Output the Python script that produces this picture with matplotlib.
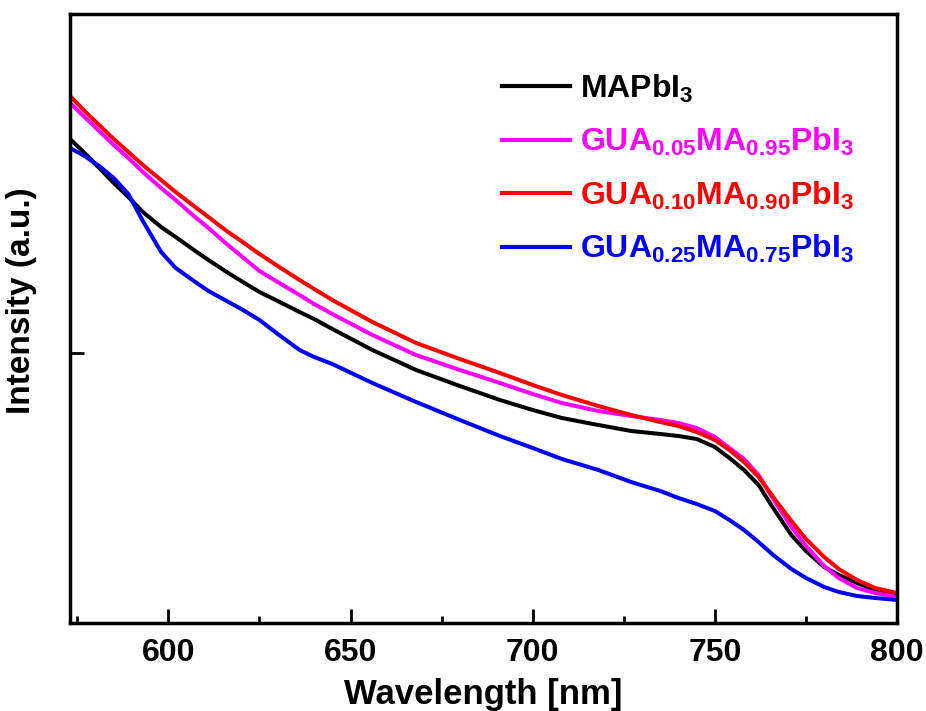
import matplotlib
matplotlib.use("Agg")
import matplotlib.pyplot as plt

plt.rcParams['font.family'] = ['Liberation Sans', 'DejaVu Sans']
plt.rcParams['font.weight'] = 'bold'
plt.rcParams['mathtext.fontset'] = 'custom'
plt.rcParams['mathtext.rm'] = 'Liberation Sans:bold'
plt.rcParams['mathtext.it'] = 'Liberation Sans:bold'
plt.rcParams['mathtext.bf'] = 'Liberation Sans:bold'
plt.rcParams['mathtext.default'] = 'bf'

wavelength = [573, 577, 581, 585, 589, 593, 598, 602, 607, 611, 616, 620, 625, 630,
              636, 640, 645, 656, 668, 680, 691, 700, 708, 718, 727, 735, 740, 745,
              750, 754, 758, 762, 766, 771, 775, 780, 784, 789, 794, 800]

mapbi3 = [484, 470, 455, 440, 426, 411, 396, 386, 373, 363, 351, 342, 331, 322,
          311, 304, 294, 273, 253, 237, 223, 213, 205, 198, 192, 189, 187, 184,
          176, 165, 153, 138, 115, 88, 72, 56, 48, 40, 33, 28]
gua005 = [520, 506, 492, 478, 465, 451, 435, 423, 407, 395, 379, 367, 352, 341,
          328, 319, 309, 288, 268, 253, 240, 229, 220, 212, 207, 203, 200, 195,
          186, 175, 164, 148, 124, 96, 77, 57, 45, 35, 30, 26]
gua010 = [527, 512, 498, 484, 471, 458, 443, 431, 417, 406, 392, 382, 369, 357,
          343, 334, 323, 301, 280, 264, 250, 238, 228, 217, 208, 201, 197, 191,
          183, 173, 161, 146, 126, 102, 84, 66, 54, 43, 35, 30]
gua025 = [475, 467, 457, 445, 429, 402, 371, 355, 342, 332, 322, 314, 303, 289,
          273, 266, 259, 240, 221, 203, 187, 175, 164, 153, 141, 132, 125, 119,
          112, 103, 93, 81, 68, 54, 45, 36, 31, 27, 25, 23]

labels = [r'$\mathbf{MAPbI_3}$',
          r'$\mathbf{GUA_{0.05}MA_{0.95}PbI_3}$',
          r'$\mathbf{GUA_{0.10}MA_{0.90}PbI_3}$',
          r'$\mathbf{GUA_{0.25}MA_{0.75}PbI_3}$']
colors = ['black', '#ff00ff', '#ff0000', '#0000ff']
series = [mapbi3, gua005, gua010, gua025]

fig = plt.figure(figsize=(9.26, 7.11), dpi=100)
ax = fig.add_axes([0.0756, 0.1238, 0.8931, 0.8565])

for s, c, l in zip(series, colors, labels):
    ax.plot(wavelength, s, color=c, lw=2.9, label=l, solid_joinstyle='round')

ax.set_xlim(573, 800)
ax.set_ylim(0, 609)
ax.set_xticks([600, 650, 700, 750, 800])
ax.set_xticks([575, 625, 675, 725, 775], minor=True)
ax.set_yticks([270])
ax.set_yticklabels([])
ax.tick_params(axis='both', which='major', direction='in', length=10, width=2,
               labelsize=23, pad=11)
ax.tick_params(axis='both', which='minor', direction='in', length=5, width=2)
for lab in ax.get_xticklabels():
    lab.set_fontweight('bold')
for sp in ax.spines.values():
    sp.set_linewidth(2.5)

ax.set_xlabel('Wavelength [nm]', fontsize=25, fontweight='bold')
ax.set_ylabel('Intensity (a.u.)', fontsize=24, fontweight='bold')
ax.xaxis.set_label_coords(0.5, -0.09)
ax.yaxis.set_label_coords(-0.040, 0.53)

leg = ax.legend(loc='upper left', bbox_to_anchor=(0.522, 0.904), frameon=False,
                fontsize=23, handlelength=2.13, handletextpad=0.31,
                labelspacing=0.67, borderaxespad=0, borderpad=0)
for txt, c in zip(leg.get_texts(), colors):
    txt.set_color(c)
for ln in leg.get_lines():
    ln.set_linewidth(3)

fig.savefig('out.png', dpi=100)
